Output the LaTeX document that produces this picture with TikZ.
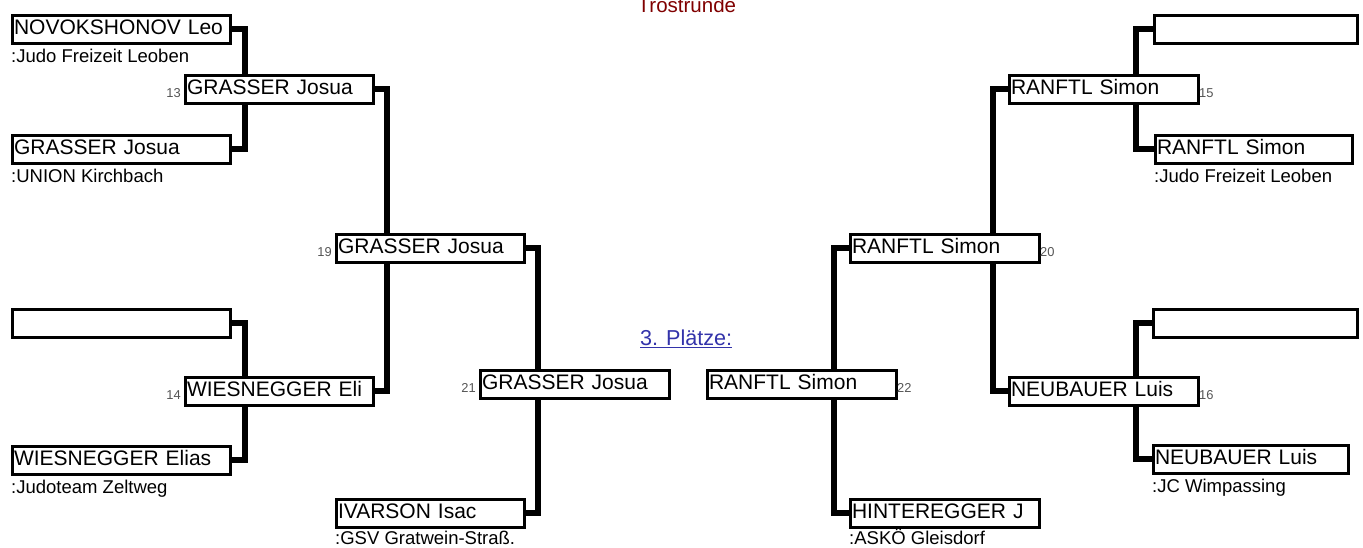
\documentclass[tikz,border=0pt]{standalone}
\usepackage{fontspec}
\setmainfont{Liberation Sans}
\definecolor{numgray}{RGB}{85,85,85}
\definecolor{linkblue}{RGB}{51,51,170}
\definecolor{trosred}{RGB}{128,0,0}
\begin{document}
\begin{tikzpicture}[x=1pt,y=-1pt,
  pbox/.style={draw, line width=3pt, fill=white, anchor=north west,
    inner xsep=2pt, inner ysep=2pt, text height=17.5pt, text depth=6.5pt,
    text width=#1, align=left, font=\fontsize{21}{24}\selectfont},
  club/.style={anchor=base west, inner sep=0pt, font=\fontsize{18.5}{21}\selectfont},
  numL/.style={anchor=base east, inner sep=0pt, text=numgray, font=\fontsize{12.9}{15}\selectfont},
  numR/.style={anchor=base west, inner sep=0pt, text=numgray, font=\fontsize{12.9}{15}\selectfont},
  conn/.style={line width=6pt}]
\useasboundingbox (0,0) rectangle (1363,547);

% titles
\node[anchor=base west, inner sep=0pt, text=trosred, font=\fontsize{20.5}{24}\selectfont] (title) at (637.5,12) {Trostrunde};
\node[anchor=base west, inner sep=0pt, text=linkblue, font=\fontsize{21.6}{24}\selectfont] (third) at (640,345) {3. Plätze:};
\draw[linkblue, line width=1.6pt] ([yshift=-2.5pt]third.base west) -- ([yshift=-2.5pt]third.base east);

% left side boxes
\node[pbox=214pt] (A) at (10.5,13.5) {NOVOKSHONOV Leo};
\node[pbox=214pt] (B) at (10.5,133.5) {GRASSER Josua};
\node[pbox=214pt] (C) at (10.5,307.5) {};
\node[pbox=214pt] (D) at (10.5,444.5) {WIESNEGGER Elias};
\node[pbox=184pt] (M13) at (183.5,73.5) {GRASSER Josua};
\node[pbox=184pt] (M14) at (183.5,375.5) {WIESNEGGER Eli};
\node[pbox=184pt] (M19) at (334.5,232.5) {GRASSER Josua};
\node[pbox=184pt] (IV) at (334.5,497.5) {IVARSON Isac};
\node[pbox=185pt] (M21) at (478.5,368.5) {GRASSER Josua};

% right side boxes
\node[pbox=185pt] (M22) at (705.5,368.5) {RANFTL Simon};
\node[pbox=185pt] (HI) at (848.5,497.5) {HINTEREGGER J};
\node[pbox=185pt] (M20) at (848.5,232.5) {RANFTL Simon};
\node[pbox=185pt] (M15) at (1007.5,73.5) {RANFTL Simon};
\node[pbox=185pt] (M16) at (1007.5,375.5) {NEUBAUER Luis};
\node[pbox=199pt] (E) at (1152.5,13.5) {};
\node[pbox=193pt] (F) at (1153.5,133.5) {RANFTL Simon};
\node[pbox=200pt] (G) at (1151.5,307.5) {};
\node[pbox=191pt] (H) at (1151.5,443.5) {NEUBAUER Luis};

% clubs
\node[club] (cA) at (11,62) {:Judo Freizeit Leoben};
\node[club] (cB) at (11,182) {:UNION Kirchbach};
\node[club] (cD) at (11,493) {:Judoteam Zeltweg};
\node[club] (cIV) at (335,544) {:GSV Gratwein-Straß.};
\node[club] (cHI) at (849,544) {:ASKÖ Gleisdorf};
\node[club] (cF) at (1154,182) {:Judo Freizeit Leoben};
\node[club] (cH) at (1152,492) {:JC Wimpassing};

% match numbers
\node[numL] (n13) at (181,97) {13};
\node[numL] (n14) at (181,399) {14};
\node[numL] (n19) at (332,256) {19};
\node[numL] (n21) at (476,392) {21};
\node[numR] (n22) at (897,392) {22};
\node[numR] (n20) at (1040,256) {20};
\node[numR] (n15) at (1199,97) {15};
\node[numR] (n16) at (1199,399) {16};

% vertical connector columns
\coordinate (xa) at (245,0);
\coordinate (xb) at (387,0);
\coordinate (xc) at (538,0);
\coordinate (xd) at (834,0);
\coordinate (xe) at (993,0);
\coordinate (xf) at (1136,0);

% left connectors
\draw[conn] (A.east) -| (xa |- M13.north);
\draw[conn] (B.east) -| (xa |- M13.south);
\draw[conn] (C.east) -| (xa |- M14.north);
\draw[conn] (D.east) -| (xa |- M14.south);
\draw[conn] (M13.east) -| (xb |- M19.north);
\draw[conn] (M14.east) -| (xb |- M19.south);
\draw[conn] (M19.east) -| (xc |- M21.north);
\draw[conn] (IV.east) -| (xc |- M21.south);

% right connectors
\draw[conn] (E.west) -| (xf |- M15.north);
\draw[conn] (F.west) -| (xf |- M15.south);
\draw[conn] (G.west) -| (xf |- M16.north);
\draw[conn] (H.west) -| (xf |- M16.south);
\draw[conn] (M15.west) -| (xe |- M20.north);
\draw[conn] (M16.west) -| (xe |- M20.south);
\draw[conn] (M20.west) -| (xd |- M22.north);
\draw[conn] (HI.west) -| (xd |- M22.south);
\end{tikzpicture}
\end{document}
